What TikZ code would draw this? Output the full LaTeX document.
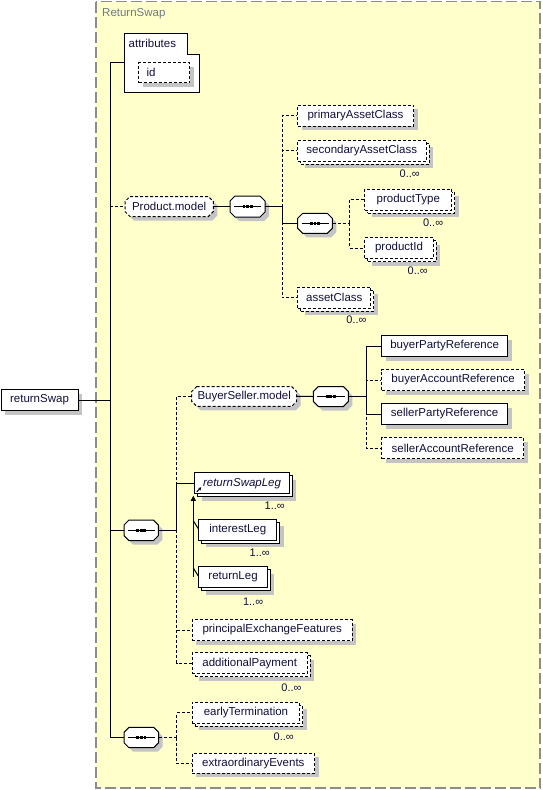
\documentclass[tikz,border=0pt]{standalone}
\usepackage{fontspec}
\setmainfont{Liberation Sans}
\usetikzlibrary{calc,arrows.meta}
\definecolor{bgyellow}{HTML}{FFFFCC}
\definecolor{framec}{HTML}{8C8C8C}
\definecolor{shd}{HTML}{C4C4C4}
\definecolor{ink}{HTML}{10103A}
\definecolor{titlec}{HTML}{6F7A8A}
\tikzset{
  every node/.style={font=\fontsize{11.5}{13}\selectfont, text=ink},
  line/.style={draw=black, line width=1pt},
  opt/.style={dash pattern=on 3pt off 2pt},
  optline/.style={line, opt},
  elem/.style={rectangle, draw=black, line width=1pt, fill=white, inner sep=0pt, anchor=west, minimum height=21pt},
  shadowed/.style={preaction={fill=shd, draw=none, transform canvas={shift={(4pt,-4pt)}}}},
  stacked/.style={preaction={fill=shd, draw=none, transform canvas={shift={(7pt,-7pt)}}},
                  preaction={fill=white, draw=black, line width=1pt, #1, transform canvas={shift={(3pt,-3pt)}}}},
  mult/.style={anchor=east, inner sep=0pt, font=\fontsize{11}{13}\selectfont},
}
\newcommand\myocta[5]{({#1+#5},{#2}) -- ({#3-#5},{#2}) -- ({#3},{#2+#5}) -- ({#3},{#4-#5}) -- ({#3-#5},{#4}) -- ({#1+#5},{#4}) -- ({#1},{#4-#5}) -- ({#1},{#2+#5}) -- cycle}
\newcommand\seqsym[5]{%
  \fill[shd, shift={(4,4)}] \myocta{#2}{#3}{#4}{#5}{5};
  \draw[line, fill=white] \myocta{#2}{#3}{#4}{#5}{5};
  \node[inner sep=0pt, minimum width={(#4-#2)*1pt}, minimum height={(#5-#3)*1pt}] (#1) at ({(#2+#4)/2},{(#3+#5)/2}) {};
  \draw[line] ($(#1.west)+(4,0)$) -- ($(#1.east)+(-4,0)$);
  \foreach \dd in {-3.6,0,3.6} {\fill[black] ($(#1.center)+(\dd,0)+(-1.4,-1.4)$) rectangle +(2.8,2.8);}
}
\newcommand\grpsym[6]{%
  \fill[shd, shift={(4,4)}] \myocta{#2}{#3}{#4}{#5}{5};
  \draw[optline, fill=white] \myocta{#2}{#3}{#4}{#5}{5};
  \node[inner sep=0pt, minimum width={(#4-#2)*1pt}, minimum height={(#5-#3)*1pt}] (#1) at ({(#2+#4)/2},{(#3+#5)/2}) {#6};
}
\begin{document}
\begin{tikzpicture}[x=1pt,y=-1pt]
\useasboundingbox (0,0) rectangle (542,790);
% outer complex type frame
\draw[framec, fill=bgyellow, line width=1.2pt, dash pattern=on 11pt off 4pt] (96,1.5) rectangle (540,788);
\node[anchor=west, inner sep=0pt, text=titlec] (title) at (102,13.5) {ReturnSwap};

% root element
\node[elem, shadowed, minimum width=77pt] (rs) at (0.5,400) {returnSwap};

% attributes
\draw[line, fill=white] (124,33) -- (187,33) -- (187,54) -- (199,54) -- (199,92) -- (124,92) -- cycle;
\node[anchor=west, inner sep=0pt] (attr) at (128.5,43.5) {attributes};
\coordinate (attrin) at (124,62.3);
\node[elem, opt, shadowed, anchor=north west, minimum height=20pt, inner xsep=8pt, text width=35pt, align=left] (id) at (138,62) {id};

% Product.model group
\grpsym{prod}{125}{196.5}{213.3}{216.5}{Product.model}
\seqsym{seqa}{230}{196}{265}{217}
\node[elem, opt, shadowed, minimum width=116pt] (pac) at (297,115.5) {primaryAssetClass};
\node[elem, opt, stacked=opt, minimum width=128.5pt] (sac) at (297,150.5) {secondaryAssetClass};
\node[mult] at (420,174) {0..∞};
\seqsym{seqb}{297.7}{213.3}{332.3}{233.3}
\node[elem, opt, stacked=opt, minimum width=87pt] (ptype) at (364.3,199.5) {productType};
\node[mult] at (443.3,222.7) {0..∞};
\node[elem, opt, stacked=opt, minimum width=68.5pt] (pid) at (364.3,248) {productId};
\node[mult] at (428,270.7) {0..∞};
\node[elem, opt, stacked=opt, minimum width=73pt] (acl) at (297.3,297.5) {assetClass};
\node[mult] at (366.7,320) {0..∞};

% BuyerSeller.model group
\grpsym{bsm}{191.7}{386.5}{296.7}{406.3}{BuyerSeller.model}
\seqsym{seqc}{313.3}{386.5}{348.3}{406.5}
\node[elem, shadowed, minimum width=126.3pt] (bpr) at (381,346) {buyerPartyReference};
\node[elem, opt, shadowed, minimum width=143.3pt] (bar) at (381,380) {buyerAccountReference};
\node[elem, shadowed, minimum width=126.3pt] (spr) at (381,414) {sellerPartyReference};
\node[elem, opt, shadowed, minimum width=142.3pt] (sar) at (381,448) {sellerAccountReference};

% middle sequence
\seqsym{seqd}{124}{520}{158.3}{540.7}
\node[elem, stacked=solid, minimum width=94.5pt, font=\fontsize{11.5}{13}\selectfont\itshape] (rsl) at (194.3,483.3) {returnSwapLeg};
\draw[line width=1pt, -{Stealth[length=3pt,width=3.5pt]}] ($(rsl.south west)+(2.5,-2.5)$) -- ($(rsl.south west)+(7,-7)$);
\node[mult] at (285,505.7) {1..∞};
\node[elem, stacked=solid, minimum width=78pt] (il) at (198.3,529.7) {interestLeg};
\node[mult] at (270,553) {1..∞};
\node[elem, stacked=solid, minimum width=68.5pt] (rl) at (198.3,577) {returnLeg};
\node[mult] at (263.3,601.7) {1..∞};
\node[elem, opt, shadowed, minimum width=160pt] (pef) at (191.7,630) {principalExchangeFeatures};
\node[elem, opt, stacked=opt, minimum width=115pt] (ap) at (191.7,663.3) {additionalPayment};
\node[mult] at (301.7,687.7) {0..∞};

% last sequence
\seqsym{seqe}{124}{727.3}{158.7}{747.7}
\node[elem, opt, stacked=opt, minimum width=107.5pt] (et) at (191.7,712.8) {earlyTermination};
\node[mult] at (294,736.7) {0..∞};
\node[elem, opt, shadowed, minimum width=122.3pt, minimum height=20pt] (ee) at (191.7,763.3) {extraordinaryEvents};

% bus coordinates
\coordinate (busA) at (110,0);
\coordinate (busB) at (282.3,0);
\coordinate (busC) at (349.3,0);
\coordinate (busD) at (176.7,0);
\coordinate (busE) at (366,0);
\coordinate (busF) at (193.3,0);

% main trunk
\draw[line] (rs.east) -- (busA |- rs.east);
\draw[line] (attrin) -- (busA |- attrin) -- (busA |- seqe.west) -- (seqe.west);
\draw[optline] (busA |- prod.west) -- (prod.west);
\draw[line] (busA |- seqd.west) -- (seqd.west);

% Product.model
\draw[line] (prod.east) -- (seqa.west);
\draw[line] (seqa.east) -- (busB |- seqa.east);
\draw[optline] (busB |- seqa.east) |- (pac.west);
\draw[optline] (busB |- seqa.east) |- (sac.west);
\draw[optline] (busB |- seqa.east) |- (acl.west);
\draw[line] (busB |- seqa.east) |- (seqb.west);
\draw[optline] (seqb.east) -- (busC |- seqb.east);
\draw[optline] (busC |- seqb.east) |- (ptype.west);
\draw[optline] (busC |- seqb.east) |- (pid.west);

% BuyerSeller.model
\draw[line] (bsm.east) -- (seqc.west);
\draw[line] (seqc.east) -- (busE |- seqc.east);
\draw[line] (busE |- seqc.east) |- (bpr.west);
\draw[optline] (busE |- seqc.east) |- (bar.west);
\draw[line] (busE |- seqc.east) |- (spr.west);
\draw[optline] (busE |- seqc.east) |- (sar.west);

% middle sequence
\draw[line] (seqd.east) -- (busD |- seqd.east);
\draw[optline] (busD |- seqd.east) |- (bsm.west);
\draw[line] (busD |- seqd.east) |- (rsl.west);
\draw[optline] (busD |- seqd.east) |- (pef.west);
\draw[optline] (busD |- seqd.east) |- (ap.west);

% substitution group
\draw[line, -{Triangle[length=5pt,width=5pt]}] (busF |- rl.west) -- ($(busF |- rsl.south)+(0,1.5)$);
\draw[line] ($(busF |- il.north)+(0,2)$) -- ($(il.west)+(0,-1)$);
\draw[line] ($(busF |- rl.north)+(0,2)$) -- ($(rl.west)+(0,-1)$);

% last sequence
\draw[optline] (seqe.east) -- (busD |- seqe.east);
\draw[optline] (busD |- seqe.east) |- (et.west);
\draw[optline] (busD |- seqe.east) |- (ee.west);
\end{tikzpicture}
\end{document}
